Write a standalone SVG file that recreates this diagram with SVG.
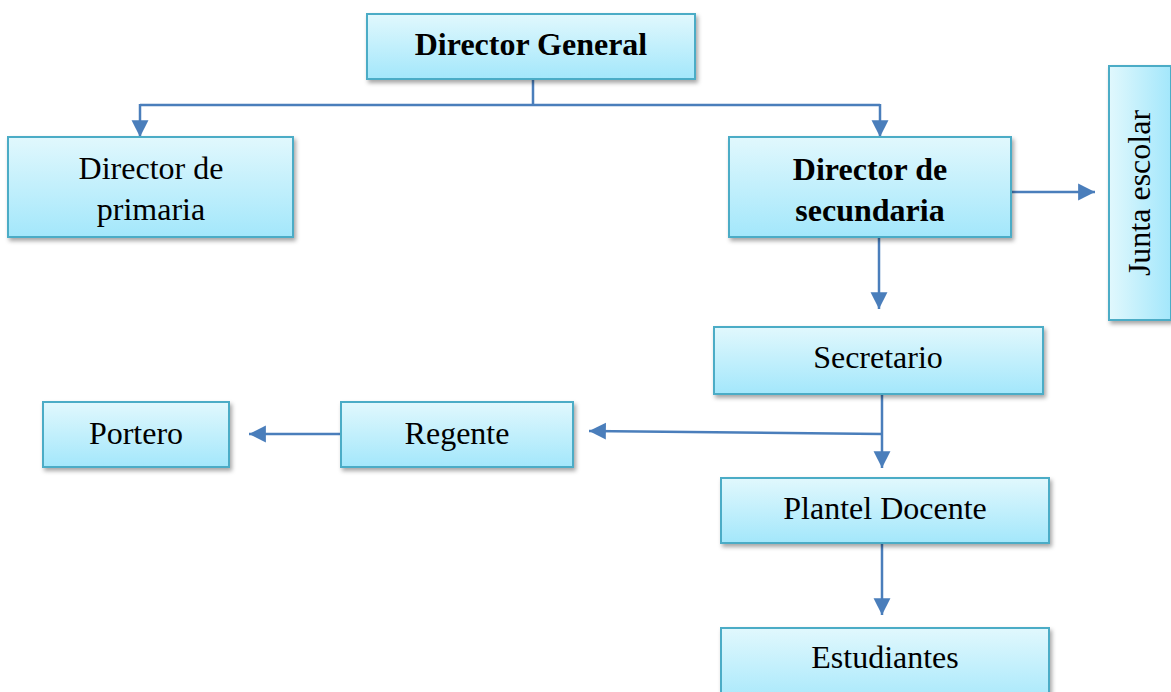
<svg xmlns="http://www.w3.org/2000/svg" width="1171" height="692" viewBox="0 0 1171 692">
<style>
.box{fill:url(#g);stroke:#4bacc6;stroke-width:2;filter:url(#sh)}
.boxh{fill:url(#gh);stroke:#4bacc6;stroke-width:2;filter:url(#sh)}
.t{font-family:"Liberation Serif","Times New Roman",serif;font-size:32px;fill:#000;text-anchor:middle}
.b{font-weight:bold}
.c{fill:none;stroke:#4a7ebb;stroke-width:2.5}
.a{marker-end:url(#ar)}
</style>
<defs>
<linearGradient id="g" x1="0" y1="0" x2="0" y2="1">
<stop offset="0" stop-color="#e1f8fd"/>
<stop offset="1" stop-color="#a3e7fb"/>
</linearGradient>
<linearGradient id="gh" x1="0" y1="0" x2="1" y2="0">
<stop offset="0" stop-color="#e1f8fd"/>
<stop offset="1" stop-color="#a3e7fb"/>
</linearGradient>
<filter id="sh" x="-10%" y="-10%" width="130%" height="140%">
<feDropShadow dx="2" dy="3" stdDeviation="2" flood-color="#000" flood-opacity="0.35"/>
</filter>
<marker id="ar" markerUnits="userSpaceOnUse" markerWidth="18" markerHeight="18" viewBox="0 0 16 16" refX="15" refY="8" orient="auto">
<path d="M0,0.5 L15,8 L0,15.5 Z" fill="#4a7ebb"/>
</marker>
</defs>
<g id="connectors">
<path class="c" d="M533,79 V105 M140,105 H880"/>
<path class="c a" d="M140,104 V137"/>
<path class="c a" d="M880,104 V137"/>
<path class="c a" d="M1011,192 H1095"/>
<path class="c a" d="M879,237 V309"/>
<path class="c a" d="M882,394 V468"/>
<path class="c a" d="M882,434 L589,431"/>
<path class="c a" d="M341,434 H249"/>
<path class="c a" d="M882,543 V615"/>
</g>
<g id="director-general">
<rect class="box" x="367" y="14" width="328" height="65"/>
<text class="t b" x="531" y="55">Director General</text>
</g>
<g id="director-primaria">
<rect class="box" x="8" y="137" width="285" height="100"/>
<text class="t" x="151" y="179">Director de</text>
<text class="t" x="151" y="220">primaria</text>
</g>
<g id="director-secundaria">
<rect class="box" x="729" y="137" width="282" height="100"/>
<text class="t b" x="870" y="180">Director de</text>
<text class="t b" x="870" y="221">secundaria</text>
</g>
<g id="junta-escolar">
<rect class="boxh" x="1109" y="66" width="62" height="254"/>
<text class="t" transform="translate(1150,193) rotate(-90)">Junta escolar</text>
</g>
<g id="secretario">
<rect class="box" x="714" y="327" width="329" height="67"/>
<text class="t" x="878" y="368">Secretario</text>
</g>
<g id="portero">
<rect class="box" x="43" y="402" width="186" height="65"/>
<text class="t" x="136" y="444">Portero</text>
</g>
<g id="regente">
<rect class="box" x="341" y="402" width="232" height="65"/>
<text class="t" x="457" y="444">Regente</text>
</g>
<g id="plantel-docente">
<rect class="box" x="721" y="478" width="328" height="65"/>
<text class="t" x="885" y="519">Plantel Docente</text>
</g>
<g id="estudiantes">
<rect class="box" x="721" y="628" width="328" height="80"/>
<text class="t" x="885" y="668">Estudiantes</text>
</g>
</svg>
